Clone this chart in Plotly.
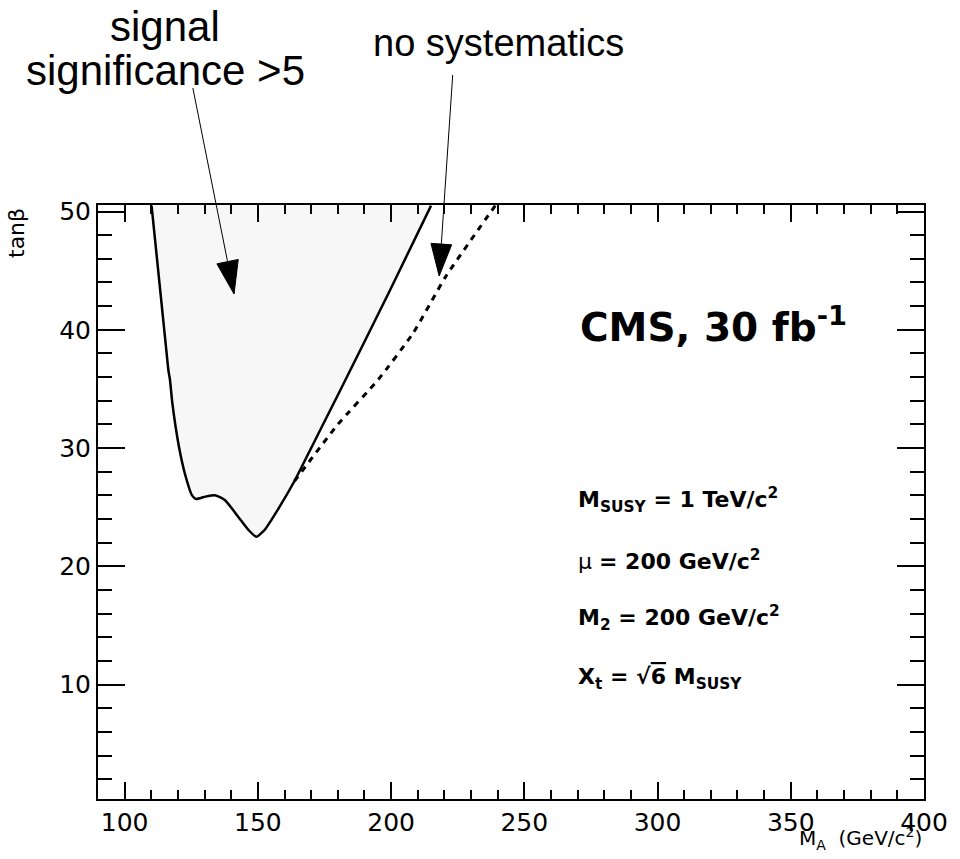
import plotly.graph_objects as go

# 5-sigma discovery contour (with systematics), M_A in GeV/c^2 vs tan(beta)
contour_ma = [110.1, 116.4, 117.0, 117.9, 120.4, 122.9, 125.3, 126.8, 130.3, 134.2,
              137.7, 142.6, 146.4, 149.4, 152.6, 157.5, 163.7, 171.1, 180.5, 199.5,
              215.0]
contour_tb = [50.5, 36.6, 35.8, 33.8, 30.1, 27.6, 26.0, 25.7, 25.9, 26.0,
              25.6, 24.2, 23.1, 22.5, 23.1, 24.8, 27.2, 30.5, 34.7, 43.3,
              50.5]

# Contour without systematic uncertainties (differs on the high-M_A side)
nosys_ma = [163.7, 180.0, 195.2, 208.2, 220.5, 239.1]
nosys_tb = [27.2, 32.0, 35.8, 39.7, 44.5, 50.5]

x_range = [90, 400]
y_range = [0.34, 50.55]

# Figure geometry (pixels)
W, H = 960, 859
ML, MR, MT, MB = 98, 26, 205, 60
PW, PH = W - ML - MR, H - MT - MB

SANS = "Liberation Sans, Arial, Helvetica, sans-serif"
WIDE = "DejaVu Sans, Verdana, sans-serif"


def px2paper(px, py):
    return (px - ML) / PW, (H - MB - py) / PH


fig = go.Figure()

# shaded discovery region
fig.add_trace(go.Scatter(
    x=contour_ma, y=contour_tb, mode="lines", fill="toself",
    fillcolor="#f7f7f7", line=dict(width=0), hoverinfo="skip", showlegend=False))
fig.add_trace(go.Scatter(
    x=contour_ma, y=contour_tb, mode="lines",
    line=dict(color="black", width=2.5, shape="spline", smoothing=0.5),
    showlegend=False))
fig.add_trace(go.Scatter(
    x=nosys_ma, y=nosys_tb, mode="lines",
    line=dict(color="black", width=3, dash="6px,6px", shape="spline", smoothing=0.5),
    showlegend=False))

shapes = []


def arrow(start, tip, head_len, head_half):
    sx, sy = start
    tx, ty = tip
    dx, dy = tx - sx, ty - sy
    n = (dx * dx + dy * dy) ** 0.5
    ux, uy = dx / n, dy / n
    bx, by = tx - ux * head_len, ty - uy * head_len
    nx, ny = -uy, ux
    a = px2paper(sx, sy)
    b = px2paper(bx, by)
    shapes.append(dict(type="line", xref="paper", yref="paper",
                       x0=a[0], y0=a[1], x1=b[0], y1=b[1],
                       line=dict(color="black", width=1)))
    p1 = px2paper(bx + nx * head_half, by + ny * head_half)
    p2 = px2paper(bx - nx * head_half, by - ny * head_half)
    p3 = px2paper(tx, ty)
    path = "M {:.5f},{:.5f} L {:.5f},{:.5f} L {:.5f},{:.5f} Z".format(
        p1[0], p1[1], p2[0], p2[1], p3[0], p3[1])
    shapes.append(dict(type="path", xref="paper", yref="paper", path=path,
                       fillcolor="black", line=dict(color="black", width=1)))


arrow((194, 88), (235.7, 294), 33, 11)
arrow((457, 75), (443.3, 276), 32, 10.5)

annotations = []


def label(text, px, py, size, family=SANS, xanchor="left", yanchor="middle", textangle=0):
    x, y = px2paper(px, py)
    annotations.append(dict(
        text=text, x=x, y=y, xref="paper", yref="paper", showarrow=False,
        xanchor=xanchor, yanchor=yanchor, textangle=textangle,
        font=dict(family=family, size=size, color="black")))


# callouts above the frame
label("signal", 166, 26, 42, xanchor="center")
label("significance >5", 166, 70, 42, xanchor="center")
label("no systematics", 503, 43, 38, xanchor="center")

# experiment and parameter labels
label("<b>CMS, 30 fb<sup>-1</sup></b>", 584, 325, 39, family=WIDE)
label("<b>M<sub>SUSY</sub> = 1 TeV/c<sup>2</sup></b>", 582, 500, 22, family=WIDE)
label("μ <b>= 200 GeV/c<sup>2</sup></b>", 582, 560, 22, family=WIDE)
label("<b>M<sub>2</sub> = 200 GeV/c<sup>2</sup></b>", 582, 618, 22, family=WIDE)
label("<b>X<sub>t</sub> = √<span style='text-decoration:overline'>6</span> M<sub>SUSY</sub></b>",
      582, 678, 22, family=WIDE)

# axis titles
label("M<sub>A</sub>  (GeV/c<sup>2</sup>)", 934, 838, 20, family=WIDE, xanchor="right")
label("tanβ", 15, 206, 22, family=WIDE, xanchor="center", yanchor="top", textangle=-90)

axis_common = dict(
    showgrid=False, zeroline=False, showline=True, linecolor="black", linewidth=2,
    mirror="allticks", ticks="inside", tickcolor="black", tickwidth=2,
    tickfont=dict(family=WIDE, size=25, color="black"),
)

fig.update_layout(
    width=W, height=H,
    margin=dict(l=ML, r=MR, t=MT, b=MB, pad=0),
    paper_bgcolor="white", plot_bgcolor="white",
    showlegend=False,
    xaxis=dict(range=x_range, tick0=100, dtick=50, ticklen=17,
               minor=dict(dtick=10, ticklen=9, tickwidth=2, ticks="inside", tickcolor="black"),
               **axis_common),
    yaxis=dict(range=y_range, tick0=0, dtick=10, ticklen=27,
               minor=dict(dtick=2, ticklen=14, tickwidth=2, ticks="inside", tickcolor="black"),
               **axis_common),
    shapes=shapes,
    annotations=annotations,
)

fig.write_html("out.html")
